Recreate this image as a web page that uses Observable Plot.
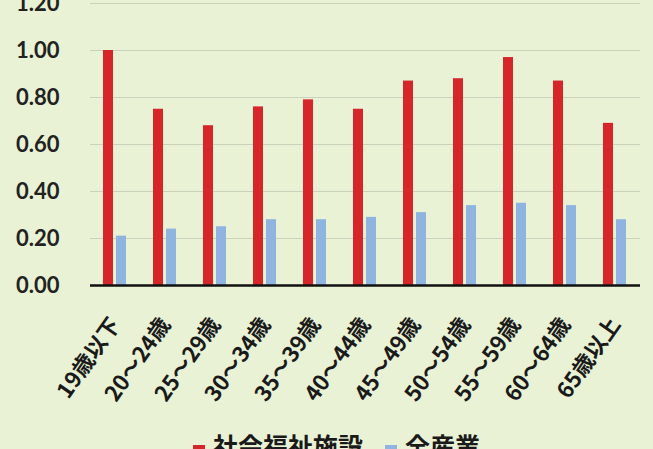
<!DOCTYPE html>
<html>
<head>
<meta charset="utf-8">
<script src="https://cdn.jsdelivr.net/npm/d3@7"></script>
<script src="https://cdn.jsdelivr.net/npm/@observablehq/plot@0.6"></script>
<style>
  html, body { margin: 0; padding: 0; background: #e9f2d4; overflow: hidden; }
  #chart svg { display: block; }
  #legend { display: flex; align-items: center; margin-left: 193px; margin-top: 6px; height: 21px; overflow: visible;
            font-family: "Noto Sans CJK JP", sans-serif; font-weight: bold; font-size: 25px; color: #1a1a1a; line-height: 30px; }
  .item { display: flex; align-items: center; margin-right: 22px; white-space: nowrap; }
  .sw { width: 12px; height: 12px; margin-right: 8px; display: inline-block; position: relative; top: 6px; }
</style>
</head>
<body>
<div id="chart"></div>
<div id="legend"></div>
<script>
const ages = ["19歳以下", "20〜24歳", "25〜29歳", "30〜34歳", "35〜39歳", "40〜44歳", "45〜49歳", "50〜54歳", "55〜59歳", "60〜64歳", "65歳以上"];
const seriesNames = ["社会福祉施設", "全産業"];
const welfare = [1.00, 0.75, 0.68, 0.76, 0.79, 0.75, 0.87, 0.88, 0.97, 0.87, 0.69];
const allIndustry = [0.21, 0.24, 0.25, 0.28, 0.28, 0.29, 0.31, 0.34, 0.35, 0.34, 0.28];
const yTicks = [0, 0.2, 0.4, 0.6, 0.8, 1.0, 1.2];
const colors = ["#d7262a", "#8fb4e0"];

const data = [];
ages.forEach((a, i) => {
  data.push({age: a, series: seriesNames[0], value: welfare[i]});
  data.push({age: a, series: seriesNames[1], value: allIndustry[i]});
});

const chart = Plot.plot({
  width: 653,
  height: 428,
  marginLeft: 90,
  marginRight: 13,
  marginTop: 3,
  marginBottom: 143,
  style: {background: "transparent", overflow: "visible"},
  fx: {domain: ages, padding: 0, label: null, axis: null},
  x: {domain: seriesNames, paddingInner: 0.21, paddingOuter: 0.93, axis: null},
  y: {domain: [0, 1.2], axis: null},
  color: {domain: seriesNames, range: colors},
  marks: [
    Plot.gridY(yTicks, {stroke: "#c9d3bc", strokeOpacity: 1, strokeWidth: 1}),
    Plot.axisY(yTicks, {tickSize: 0, tickPadding: 31, tickFormat: d3.format(".2f"), label: null,
      fontSize: 22, fontWeight: "bold", fontFamily: "Lato", fill: "#222"}),
    Plot.barY(data, {fx: "age", x: "series", y: "value", fill: "series"}),
    Plot.ruleY([0], {stroke: "#111", strokeWidth: 2.5}),
    Plot.axisFx({anchor: "bottom", tickRotate: -55, tickSize: 0, tickPadding: 35, label: null,
      fontSize: 22, fontWeight: "bold", fontFamily: "Noto Sans CJK JP", fill: "#1a1a1a"})
  ]
});
document.getElementById("chart").appendChild(chart);

const legend = document.getElementById("legend");
seriesNames.forEach((s, i) => {
  const item = document.createElement("div");
  item.className = "item";
  const sw = document.createElement("span");
  sw.className = "sw";
  sw.style.background = colors[i];
  item.appendChild(sw);
  item.appendChild(document.createTextNode(s));
  legend.appendChild(item);
});
</script>
</body>
</html>
